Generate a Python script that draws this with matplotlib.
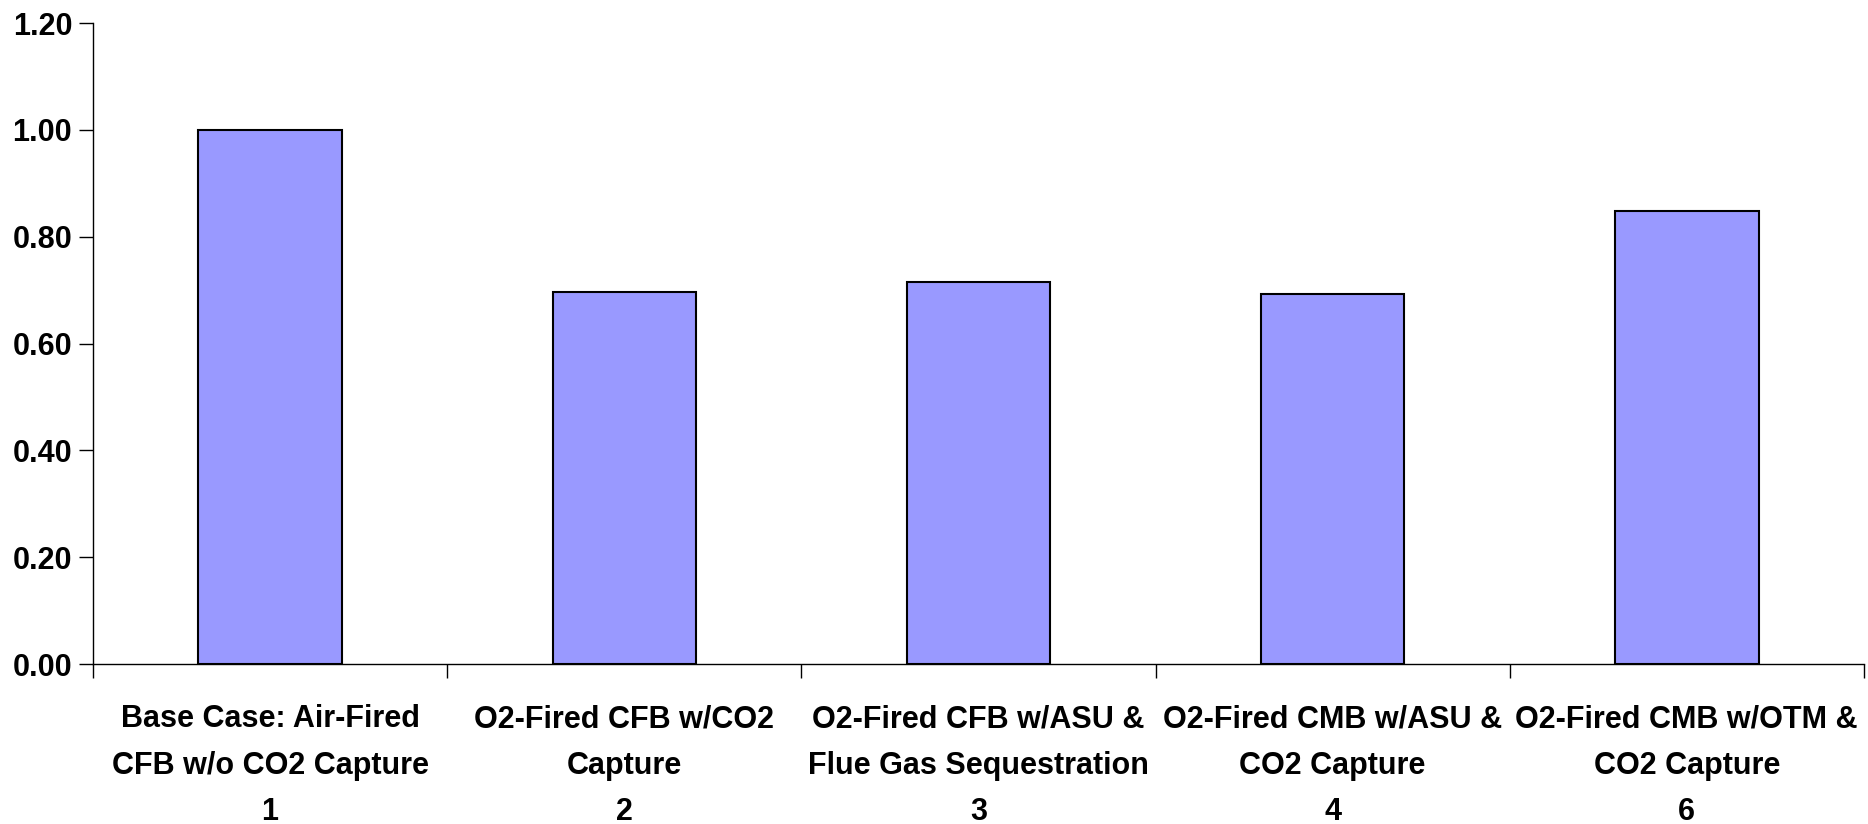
import matplotlib.pyplot as plt
import numpy as np

plt.rcParams['font.family'] = ['Liberation Sans', 'DejaVu Sans']

# data
cases = ["Base Case: Air-Fired\nCFB w/o CO2 Capture",
         "O2-Fired CFB w/CO2\nCapture",
         "O2-Fired CFB w/ASU &\nFlue Gas Sequestration",
         "O2-Fired CMB w/ASU &\nCO2 Capture",
         "O2-Fired CMB w/OTM &\nCO2 Capture"]
case_ids = ["1", "2", "3", "4", "6"]
values = [1.00, 0.697, 0.715, 0.693, 0.848]
yticks = [0.0, 0.2, 0.4, 0.6, 0.8, 1.0, 1.2]

fig = plt.figure(figsize=(18.68, 8.24), dpi=100)
ax = fig.add_axes([0.0498, 0.194, 0.948, 0.778])

x = np.arange(len(values))
ax.bar(x, values, width=0.405, color='#9999FF', edgecolor='black', linewidth=1.5)

ax.set_xlim(-0.5, len(values) - 0.5)
ax.set_ylim(0, 1.2)
ax.set_yticks(yticks)
ax.set_yticklabels(["%.2f" % v for v in yticks], fontsize=22, fontweight='bold')

labels = [c + "\n" + n for c, n in zip(cases, case_ids)]
ax.set_xticks(x)
ax.set_xticklabels(labels, fontsize=22, fontweight='bold', linespacing=1.7)
ax.set_xticks(np.arange(len(values) + 1) - 0.5, minor=True)
ax.tick_params(axis='x', which='major', length=0, pad=29)
ax.tick_params(axis='x', which='minor', length=10, direction='out', width=1)
ax.tick_params(axis='y', length=10, width=1, pad=5)

for s in ['top', 'right']:
    ax.spines[s].set_visible(False)
for s in ['left', 'bottom']:
    ax.spines[s].set_linewidth(1)

fig.savefig('out.png', dpi=100)
